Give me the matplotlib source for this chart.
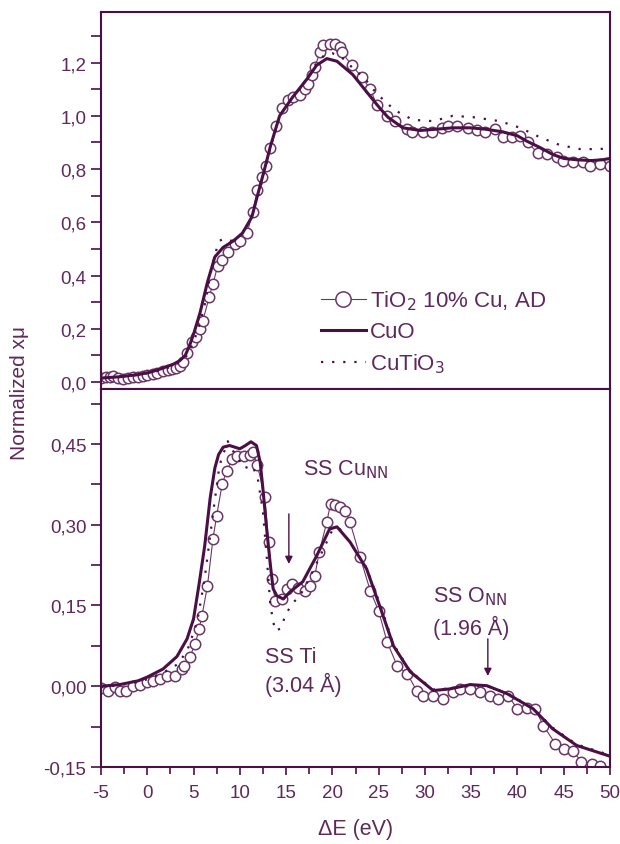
import matplotlib
matplotlib.use('Agg')
from matplotlib import pyplot as plt
from matplotlib.ticker import MultipleLocator, FuncFormatter
from matplotlib.lines import Line2D

plt.rcParams['font.family'] = ['Liberation Sans', 'DejaVu Sans']
plt.rcParams['font.size'] = 12
plt.rcParams['axes.unicode_minus'] = False

LINE = '#4a1046'
TEXT = '#5e2a5c'
CIRC = '#6a3766'

# upper panel: normalized XANES
top_tio2_e = [-5, -4.5, -4, -3.7, -3.2, -2.6, -2.1, -1.5, -1, -0.5, 0, 0.6, 1.1, 1.7, 2.2, 2.7,
              3.1, 3.5, 3.9, 4.3, 4.8, 5.3, 5.7, 6.0, 6.7, 7.1, 7.6, 8.1, 8.7, 9.5, 10.0, 10.8,
              11.4, 11.9, 12.4, 12.8, 13.3, 13.9, 14.6, 15.2, 15.7, 16.5, 17.0, 17.4, 17.8, 18.1,
              18.7, 19.0, 19.7, 20.3, 20.8, 21.0, 22.1, 23.2, 24.1, 24.8, 25.9, 26.8, 28.1, 28.6,
              29.8, 30.8, 31.8, 32.5, 33.5, 34.7, 35.6, 36.5, 37.6, 38.4, 39.4, 40.3, 41.1, 42.2,
              43.2, 44.3, 44.9, 46.0, 47.1, 47.8, 48.9, 50.0]
top_tio2 = [0.015, 0.018, 0.02, 0.022, 0.016, 0.011, 0.014, 0.019, 0.02, 0.022, 0.026, 0.03, 0.035,
            0.041, 0.045, 0.049, 0.054, 0.06, 0.075, 0.11, 0.15, 0.17, 0.2, 0.23, 0.32, 0.37, 0.435,
            0.46, 0.49, 0.517, 0.53, 0.56, 0.64, 0.72, 0.77, 0.81, 0.88, 0.96, 1.03, 1.06, 1.07,
            1.08, 1.1, 1.12, 1.155, 1.185, 1.24, 1.265, 1.27, 1.27, 1.26, 1.24, 1.19, 1.145, 1.1,
            1.04, 1.0, 0.98, 0.95, 0.94, 0.94, 0.94, 0.955, 0.96, 0.96, 0.955, 0.945, 0.94, 0.95,
            0.92, 0.92, 0.925, 0.9, 0.86, 0.855, 0.845, 0.83, 0.825, 0.825, 0.81, 0.82, 0.81]

top_cuo_e = [-5, -3, -1, 0.3, 1.5, 2.8, 3.5, 4.1, 4.6, 5.0, 5.7, 6.5, 7.3, 8.2, 9.3, 10.3, 11.3,
             11.9, 12.6, 13.3, 14.3, 15.7, 17.3, 18.3, 19.4, 20.5, 22.2, 24.4, 25.1, 26.0, 27.6,
             29.5, 31.3, 33.0, 34.9, 36.5, 38.4, 40.0, 41.0, 42.5, 43.8, 45.0, 46.4, 48.0, 49.2, 50]
top_cuo = [0.015, 0.02, 0.028, 0.037, 0.05, 0.067, 0.08, 0.1, 0.14, 0.18, 0.26, 0.375, 0.47, 0.506,
           0.53, 0.56, 0.62, 0.70, 0.79, 0.885, 1.0, 1.07, 1.14, 1.19, 1.215, 1.205, 1.155, 1.06,
           1.03, 0.995, 0.955, 0.945, 0.95, 0.955, 0.955, 0.95, 0.94, 0.925, 0.905, 0.88, 0.855,
           0.84, 0.835, 0.832, 0.835, 0.84]

top_cutio3_e = [-5, -3, -1, 0.3, 1.5, 2.8, 3.5, 4.1, 4.6, 5.0, 5.7, 6.2, 6.8, 7.3, 7.8, 8.3, 9.0,
                10.0, 11.0, 11.9, 12.6, 13.3, 14.3, 15.7, 17.3, 18.3, 19.2, 20.0, 21.0, 22.2, 23.5,
                24.4, 25.5, 26.8, 28.7, 30.9, 33.0, 35.2, 38.1, 40.3, 42.4, 44.6, 46.8, 48.9, 50]
top_cutio3 = [0.015, 0.02, 0.027, 0.035, 0.045, 0.06, 0.075, 0.09, 0.12, 0.15, 0.22, 0.29, 0.4,
              0.48, 0.53, 0.54, 0.53, 0.55, 0.6, 0.69, 0.78, 0.88, 1.0, 1.07, 1.14, 1.2, 1.23,
              1.235, 1.22, 1.18, 1.14, 1.1, 1.06, 1.02, 0.985, 0.98, 1.0, 0.995, 0.98, 0.955,
              0.92, 0.89, 0.875, 0.875, 0.88]

# lower panel: difference spectra
bot_tio2_e = [-5, -4.2, -3.5, -2.9, -2.3, -1.5, -0.8, 0.0, 0.6, 1.4, 2.1, 3.0, 3.7, 4.0, 4.6, 5.2,
              5.6, 5.9, 6.5, 7.1, 7.5, 8.1, 8.6, 9.2, 9.7, 10.4, 11.1, 11.4, 11.9, 12.7, 13.1, 13.5,
              13.8, 14.6, 15.1, 15.6, 16.3, 17.0, 17.6, 18.1, 18.6, 19.4, 19.8, 20.3, 20.8, 21.4,
              21.9, 23.0, 24.1, 25.0, 25.9, 27.0, 28.1, 29.1, 29.8, 30.9, 32.0, 33.0, 33.8, 34.9,
              36.0, 37.0, 37.9, 39.0, 40.0, 41.0, 41.9, 42.8, 44.1, 45.0, 46.0, 46.9, 48.1, 48.9]
bot_tio2 = [-0.004, -0.008, -0.001, -0.008, -0.008, 0.001, 0.003, 0.008, 0.01, 0.014, 0.019, 0.019,
            0.032, 0.038, 0.055, 0.079, 0.107, 0.13, 0.186, 0.274, 0.317, 0.376, 0.4, 0.422, 0.428,
            0.428, 0.43, 0.435, 0.41, 0.352, 0.268, 0.2, 0.159, 0.162, 0.181, 0.19, 0.183, 0.177,
            0.187, 0.205, 0.25, 0.305, 0.339, 0.337, 0.333, 0.326, 0.305, 0.24, 0.177, 0.14,
            0.083, 0.038, 0.023, -0.008, -0.019, -0.019, -0.023, -0.01, -0.005, -0.006, -0.01,
            -0.018, -0.023, -0.018, -0.042, -0.04, -0.042, -0.073, -0.107, -0.116, -0.12, -0.14,
            -0.144, -0.148]

bot_cuo_e = [-5, -3, -1, 0, 1.7, 3.2, 4.3, 5.0, 5.6, 6.2, 6.8, 7.3, 7.7, 8.2, 8.9, 10.0, 10.6,
             11.2, 11.8, 12.2, 12.5, 12.9, 13.3, 13.6, 14.0, 14.7, 15.4, 16.8, 18.3, 19.7, 20.5,
             21.9, 23.7, 25.3, 26.6, 28.4, 30.9, 32.7, 34.9, 36.7, 38.9, 41.7, 43.8, 46.4, 50]
bot_cuo = [0.0, 0.003, 0.01, 0.017, 0.032, 0.055, 0.088, 0.125, 0.19, 0.26, 0.35, 0.405, 0.43,
           0.444, 0.447, 0.441, 0.447, 0.454, 0.447, 0.416, 0.366, 0.292, 0.225, 0.181, 0.168,
           0.162, 0.175, 0.194, 0.242, 0.292, 0.296, 0.268, 0.218, 0.14, 0.075, 0.027, -0.008,
           -0.005, 0.003, 0.001, -0.014, -0.042, -0.079, -0.11, -0.13]

bot_cutio3_e = [-5, -3, -1, 0, 1.7, 3.2, 4.3, 5.4, 6.2, 7.1, 7.8, 8.7, 9.5, 10.5, 11.3, 11.9, 12.5,
                12.9, 13.3, 13.8, 14.4, 15.0, 15.8, 16.5, 17.5, 18.9, 20.0, 20.8, 22.0, 23.7, 25.3,
                26.6, 28.4, 30.9, 33.0, 35.0, 36.7, 38.9, 41.7, 43.8, 46.4, 50]
bot_cutio3 = [-0.002, 0.002, 0.008, 0.013, 0.025, 0.04, 0.065, 0.12, 0.2, 0.32, 0.41, 0.455, 0.43,
              0.405, 0.41, 0.39, 0.324, 0.242, 0.15, 0.103, 0.107, 0.135, 0.156, 0.168, 0.2, 0.25,
              0.29, 0.292, 0.265, 0.22, 0.145, 0.078, 0.028, -0.006, -0.004, 0.001, 0.0, -0.013,
              -0.041, -0.077, -0.108, -0.128]

labels = ['TiO$_2$ 10% Cu, AD', 'CuO', 'CuTiO$_3$']


def comma(v, pos, nd):
    return f'{v:.{nd}f}'.replace('.', ',')


def style(ax):
    for s in ax.spines.values():
        s.set_color(LINE)
        s.set_linewidth(1.5)
    ax.tick_params(axis='y', which='both', direction='out', left=True, right=False,
                   colors=LINE, labelcolor=TEXT, labelsize=13.5)
    ax.tick_params(axis='y', which='major', length=7, width=1.2)
    ax.tick_params(axis='y', which='minor', length=7, width=1.2)
    ax.tick_params(axis='x', which='both', direction='out', top=False,
                   colors=LINE, labelcolor=TEXT, labelsize=13.5, width=1.2)
    ax.tick_params(axis='x', which='major', length=6)
    ax.tick_params(axis='x', which='minor', length=5)
    ax.xaxis.set_major_locator(MultipleLocator(5))
    ax.xaxis.set_minor_locator(MultipleLocator(2.5))
    ax.set_xlim(-5, 50)


def draw(ax, e1, y1, e2, y2, e3, y3):
    ax.plot(e1, y1, '-', color=CIRC, lw=0.8, marker='o', ms=7.5, mfc='white',
            mec=CIRC, mew=1.1, zorder=2)
    ax.plot(e2, y2, '-', color=LINE, lw=2.2, zorder=3)
    ax.plot(e3, y3, color=LINE, lw=1.6, linestyle=(0, (1, 4)), zorder=4)


fig = plt.figure(figsize=(6.2, 8.45), dpi=100)
ax1 = fig.add_axes([101 / 620, 1 - 390 / 845, 509 / 620, 377 / 845])
ax2 = fig.add_axes([101 / 620, 1 - 768 / 845, 509 / 620, 378 / 845])

draw(ax1, top_tio2_e, top_tio2, top_cuo_e, top_cuo, top_cutio3_e, top_cutio3)
draw(ax2, bot_tio2_e, bot_tio2, bot_cuo_e, bot_cuo, bot_cutio3_e, bot_cutio3)

style(ax1)
style(ax2)
ax1.set_ylim(-0.026, 1.39)
ax1.yaxis.set_major_locator(MultipleLocator(0.2))
ax1.yaxis.set_minor_locator(MultipleLocator(0.1))
ax1.yaxis.set_major_formatter(FuncFormatter(lambda v, p: comma(v, p, 1)))
ax1.tick_params(axis='x', labelbottom=False)

ax2.set_ylim(-0.15, 0.552)
ax2.yaxis.set_major_locator(MultipleLocator(0.15))
ax2.yaxis.set_minor_locator(MultipleLocator(0.075))
ax2.yaxis.set_major_formatter(FuncFormatter(lambda v, p: comma(v, p, 2)))
ax2.tick_params(axis='x', pad=6)

# legend
handles = [Line2D([], [], color=CIRC, lw=0.8, marker='o', ms=11, mfc='white', mec=CIRC, mew=1.1),
           Line2D([], [], color=LINE, lw=2.2),
           Line2D([], [], color=LINE, lw=1.6, linestyle=(0, (1, 4)))]
leg = ax1.legend(handles, labels, loc='upper left', bbox_to_anchor=(0.415, 0.29), frameon=False,
                 fontsize=16, handlelength=2.0, handletextpad=0.2, labelspacing=0.42,
                 borderaxespad=0)
for t in leg.get_texts():
    t.set_color(TEXT)

# annotations
kw = dict(color=TEXT, fontsize=15.5, va='center', ha='left')
ax2.text(16.8, 0.404, 'SS Cu$_{\\mathrm{NN}}$', **kw)
ax2.text(12.7, 0.056, 'SS Ti', **kw)
ax2.text(12.7, 0.005, '(3.04 Å)', **kw)
ax2.text(30.9, 0.168, 'SS O$_{\\mathrm{NN}}$', **kw)
ax2.text(30.9, 0.110, '(1.96 Å)', **kw)
arrow = dict(arrowstyle='-|>', color=LINE, lw=1.0, mutation_scale=11, shrinkA=0, shrinkB=0)
ax2.annotate('', xy=(15.3, 0.227), xytext=(15.3, 0.32), arrowprops=arrow)
ax2.annotate('', xy=(36.8, 0.019), xytext=(36.8, 0.088), arrowprops=arrow)

fig.text(0.032, 0.535, 'Normalized x\u03bc', rotation=90, color=TEXT, fontsize=15,
         ha='center', va='center')
fig.text(0.573, 0.018, '\u0394E (eV)', color=TEXT, fontsize=15.5, ha='center', va='center')

fig.savefig('out.png', dpi=100)
